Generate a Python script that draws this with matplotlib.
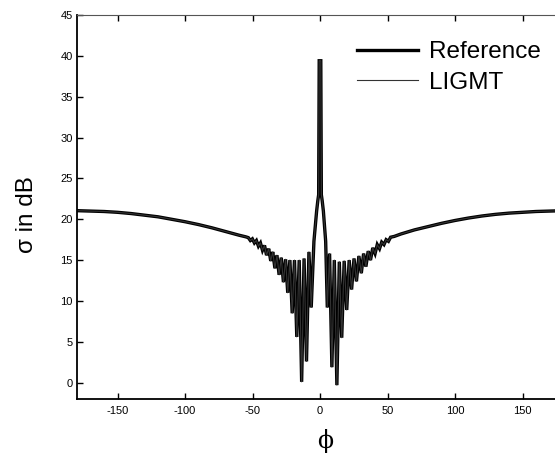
import matplotlib
matplotlib.use("Agg")
import matplotlib.pyplot as plt

# ---- data ----
phi_deg = [-180, -170, -160, -150, -140, -130, -120, -110, -100, -90, -80, -70,
           -60, -55, -53.1, -51.6, -50.1, -48.6, -47.1, -45.6, -44.1, -42.6,
           -41.1, -39.6, -38.0, -36.5, -35.0, -33.4, -31.9, -30.3, -28.7, -27.1,
           -25.5, -23.9, -22.3, -20.6, -18.9, -17.2, -15.4, -13.6, -11.8, -10.0,
           -8.2, -6.5, -4.5, -2.5, -1.6, -1.0, -0.6, 0.6, 1.0, 1.6, 2.5, 4.2,
           5.4, 7.1, 8.8, 10.6, 12.5, 14.3, 16.1, 17.9, 19.8, 21.6, 23.4, 25.2,
           27.0, 28.8, 30.6, 32.3, 34.0, 35.7, 37.4, 39.1, 40.8, 42.4, 44.1, 45.7,
           47.4, 49.0, 50.7, 52.3, 55, 60, 70, 80, 90, 100, 110, 120, 130, 140,
           150, 160, 170, 180]
sigma_reference = [21.05, 21.0, 20.95, 20.85, 20.7, 20.5, 20.3, 20.0, 19.7, 19.35,
                   18.95, 18.5, 18.05, 17.85, 17.75, 17.4, 17.6, 17.1, 17.4, 16.7,
                   17.1, 16.2, 16.8, 15.6, 16.4, 14.9, 16.0, 14.0, 15.6, 13.2, 15.3,
                   12.3, 15.1, 11.0, 15.0, 8.5, 15.0, 5.6, 15.0, 0.1, 15.2, 2.6,
                   16.0, 9.2, 17.3, 21.0, 22.3, 23.0, 39.4, 39.4, 23.0, 22.3, 21.0,
                   17.3, 9.2, 15.8, 1.9, 15.0, -0.3, 14.8, 5.5, 14.9, 8.9, 15.0,
                   11.4, 15.2, 12.4, 15.5, 13.4, 15.8, 14.2, 16.1, 15.0, 16.5, 15.8,
                   16.9, 16.4, 17.2, 16.9, 17.5, 17.3, 17.8, 17.9, 18.2, 18.7, 19.1,
                   19.5, 19.85, 20.15, 20.4, 20.6, 20.75, 20.85, 20.95, 21.0, 21.05]
sigma_ligmt = list(sigma_reference)

x_ticks = [-150, -100, -50, 0, 50, 100, 150]
y_ticks = [0, 5, 10, 15, 20, 25, 30, 35, 40, 45]
series_labels = ["Reference", "LIGMT"]

plt.rcParams['font.family'] = ['Liberation Sans', 'DejaVu Sans']
plt.rcParams['axes.unicode_minus'] = False

fig = plt.figure(figsize=(5.55, 4.55), dpi=100)
ax = fig.add_axes([77 / 555, 56 / 455, 486 / 555, 384 / 455])

ax.plot(phi_deg, sigma_reference, color='black', lw=2.4, label=series_labels[0],
        solid_joinstyle='miter')
ax.plot(phi_deg, sigma_ligmt, color='#333333', lw=0.8, label=series_labels[1])

ax.set_xlim(-180, 180)
ax.set_ylim(-2, 45)
ax.set_xticks(x_ticks)
ax.set_yticks(y_ticks)
ax.tick_params(direction='in', length=4, width=1, labelsize=8, top=True,
               right=True, colors='black')
ax.tick_params(axis='x', pad=5)
ax.tick_params(axis='y', pad=3)

for s in ['left', 'bottom']:
    ax.spines[s].set_linewidth(1.3)
ax.spines['top'].set_linewidth(0.8)
ax.spines['top'].set_color('#555555')

ax.set_ylabel("σ in dB", fontsize=17.5)
ax.yaxis.set_label_coords((38 - 77) / 486, 0.48)
ax.set_xlabel("ϕ", fontsize=17, family=['DejaVu Serif'])
ax.xaxis.set_label_coords((325 - 77) / 486, -30 / 384)

leg = ax.legend(loc='upper left', bbox_to_anchor=(357 / 555, 1 - 41 / 455),
                bbox_transform=fig.transFigure, frameon=False, fontsize=17.5,
                handlelength=2.5, handletextpad=0.45, borderpad=0,
                borderaxespad=0, labelspacing=0.35)

fig.savefig("out.png", dpi=100)
